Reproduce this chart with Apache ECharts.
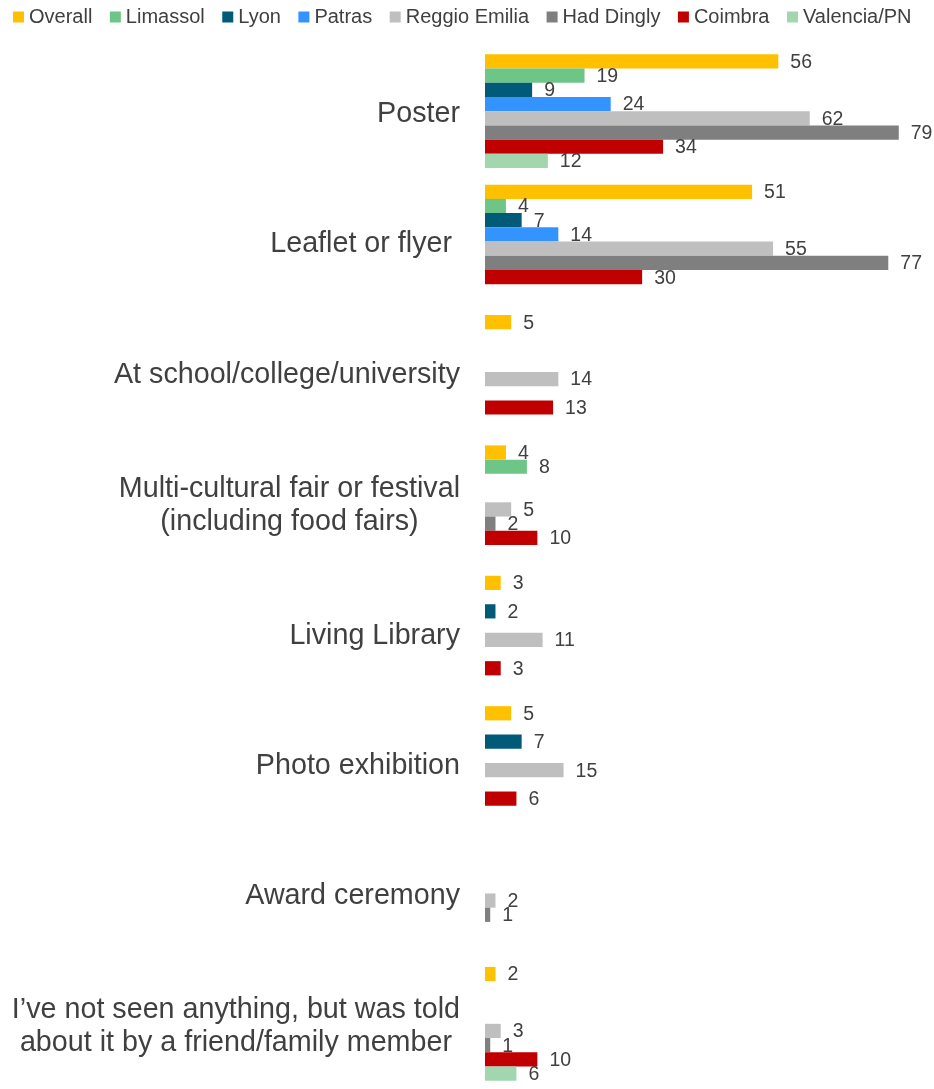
<!DOCTYPE html>
<html>
<head>
<meta charset="utf-8">
<style>
  html, body { margin: 0; padding: 0; background: #ffffff; }
  #chart { width: 934px; height: 1089px; }
</style>
<script src="https://cdn.jsdelivr.net/npm/echarts@6/dist/echarts.min.js"></script>
</head>
<body>
<div id="chart"></div>
<script>
// Where people saw or heard about the activities (%), by site
const categories = [
  'Poster',
  'Leaflet or flyer ',
  'At school/college/university',
  'Multi-cultural fair or festival\n(including food fairs)',
  'Living Library',
  'Photo exhibition',
  'Award ceremony',
  'I’ve not seen anything, but was told\nabout it by a friend/family member'
];

const seriesNames = ['Overall', 'Limassol', 'Lyon', 'Patras', 'Reggio Emilia', 'Had Dingly', 'Coimbra', 'Valencia/PN'];

const overall   = [56, 51, 5, 4, 3, 5, null, 2];
const limassol  = [19, 4, null, 8, null, null, null, null];
const lyon      = [9, 7, null, null, 2, 7, null, null];
const patras    = [24, 14, null, null, null, null, null, null];
const reggio    = [62, 55, 14, 5, 11, 15, 2, 3];
const hadDingly = [79, 77, null, 2, null, null, 1, 1];
const coimbra   = [34, 30, 13, 10, 3, 6, null, 10];
const valencia  = [12, null, null, null, null, null, null, 6];

const seriesValues = [overall, limassol, lyon, patras, reggio, hadDingly, coimbra, valencia];
const colors = ['#FFC000', '#6DC587', '#005A78', '#3393FF', '#BFBFBF', '#7F7F7F', '#C00000', '#A1D6AF'];

const FONT = '"Liberation Sans", Arial, sans-serif';
const TEXT = '#404040';

const chart = echarts.init(document.getElementById('chart'), null, { renderer: 'canvas' });

chart.setOption({
  animation: false,
  backgroundColor: '#ffffff',
  color: colors,
  textStyle: { fontFamily: FONT },
  legend: {
    left: 13,
    top: 7,
    padding: 0,
    icon: 'rect',
    itemWidth: 11,
    itemHeight: 11,
    itemGap: 17.5,
    textStyle: { fontSize: 20, color: TEXT, fontFamily: FONT },
    data: seriesNames
  },
  grid: {
    left: 485,
    top: 46,
    width: 419,
    height: 1047.7,
    containLabel: false
  },
  xAxis: {
    type: 'value',
    min: 0,
    max: 80,
    show: false
  },
  yAxis: {
    type: 'category',
    inverse: true,
    data: categories,
    axisLine: { show: false },
    axisTick: { show: false },
    splitLine: { show: false },
    axisLabel: {
      interval: 0,
      margin: 25,
      align: 'right',
      fontSize: 28.7,
      color: TEXT,
      fontFamily: FONT,
      // each line is centred within the label block, the block sits right-aligned
      formatter: function (v) {
        return v.split('\n').map(function (line) { return '{c|' + line + '}'; }).join('\n');
      },
      rich: {
        c: { align: 'center', fontSize: 28.7, lineHeight: 33, padding: [6, 0, 0, 0], color: TEXT, fontFamily: FONT }
      }
    }
  },
  series: seriesNames.map(function (name, i) {
    return {
      name: name,
      type: 'bar',
      data: seriesValues[i],
      barGap: '0%',
      barCategoryGap: '12.7%',
      label: {
        show: true,
        position: 'right',
        distance: 12,
        offset: [0, 1],
        fontSize: 19.5,
        color: TEXT,
        fontFamily: FONT,
        formatter: '{c}'
      }
    };
  })
});
</script>
</body>
</html>
